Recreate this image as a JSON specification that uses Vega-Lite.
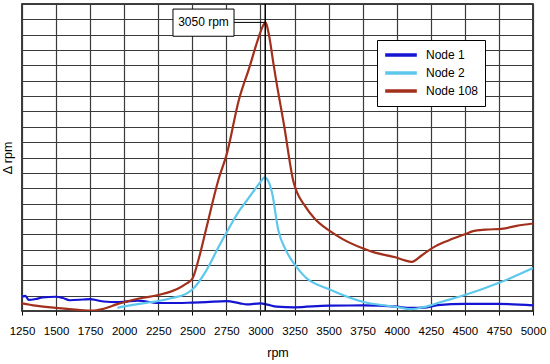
{
  "$schema": "https://vega.github.io/schema/vega-lite/v6.json",
  "width": 511,
  "height": 307,
  "autosize": {"type": "none"},
  "padding": {"left": 22, "top": 4, "right": 17, "bottom": 53},
  "background": "white",
  "config": {
    "font": "Liberation Sans",
    "view": {"stroke": "black", "strokeWidth": 1.5},
    "axis": {"labelFont": "Liberation Sans", "titleFont": "Liberation Sans", "labelColor": "black", "titleColor": "black", "gridColor": "#3a3a3a", "gridWidth": 1.2, "gridOpacity": 1, "domain": false}
  },
  "datasets": {
    "curves": [
      {"series": "Node 1", "rpm": 1250, "value": 0.93},
      {"series": "Node 1", "rpm": 1275, "value": 0.98},
      {"series": "Node 1", "rpm": 1300, "value": 0.72},
      {"series": "Node 1", "rpm": 1350, "value": 0.78},
      {"series": "Node 1", "rpm": 1400, "value": 0.88},
      {"series": "Node 1", "rpm": 1500, "value": 0.93},
      {"series": "Node 1", "rpm": 1550, "value": 0.85},
      {"series": "Node 1", "rpm": 1600, "value": 0.7},
      {"series": "Node 1", "rpm": 1700, "value": 0.75},
      {"series": "Node 1", "rpm": 1750, "value": 0.78},
      {"series": "Node 1", "rpm": 1800, "value": 0.7},
      {"series": "Node 1", "rpm": 1850, "value": 0.62},
      {"series": "Node 1", "rpm": 1950, "value": 0.58},
      {"series": "Node 1", "rpm": 2000, "value": 0.6},
      {"series": "Node 1", "rpm": 2100, "value": 0.68},
      {"series": "Node 1", "rpm": 2200, "value": 0.57},
      {"series": "Node 1", "rpm": 2250, "value": 0.52},
      {"series": "Node 1", "rpm": 2400, "value": 0.52},
      {"series": "Node 1", "rpm": 2500, "value": 0.55},
      {"series": "Node 1", "rpm": 2600, "value": 0.58},
      {"series": "Node 1", "rpm": 2750, "value": 0.64},
      {"series": "Node 1", "rpm": 2850, "value": 0.5},
      {"series": "Node 1", "rpm": 2900, "value": 0.43},
      {"series": "Node 1", "rpm": 3000, "value": 0.5},
      {"series": "Node 1", "rpm": 3050, "value": 0.42},
      {"series": "Node 1", "rpm": 3120, "value": 0.28},
      {"series": "Node 1", "rpm": 3250, "value": 0.24},
      {"series": "Node 1", "rpm": 3500, "value": 0.35},
      {"series": "Node 1", "rpm": 3750, "value": 0.36},
      {"series": "Node 1", "rpm": 4000, "value": 0.28},
      {"series": "Node 1", "rpm": 4100, "value": 0.2},
      {"series": "Node 1", "rpm": 4200, "value": 0.22},
      {"series": "Node 1", "rpm": 4300, "value": 0.38},
      {"series": "Node 1", "rpm": 4500, "value": 0.46},
      {"series": "Node 1", "rpm": 4750, "value": 0.46},
      {"series": "Node 1", "rpm": 5000, "value": 0.37},
      {"series": "Node 2", "rpm": 1950, "value": 0.2},
      {"series": "Node 2", "rpm": 2000, "value": 0.3},
      {"series": "Node 2", "rpm": 2100, "value": 0.45},
      {"series": "Node 2", "rpm": 2250, "value": 0.65},
      {"series": "Node 2", "rpm": 2350, "value": 0.85},
      {"series": "Node 2", "rpm": 2450, "value": 1.1},
      {"series": "Node 2", "rpm": 2500, "value": 1.4},
      {"series": "Node 2", "rpm": 2600, "value": 2.6},
      {"series": "Node 2", "rpm": 2700, "value": 4.3},
      {"series": "Node 2", "rpm": 2750, "value": 5.1},
      {"series": "Node 2", "rpm": 2850, "value": 6.6},
      {"series": "Node 2", "rpm": 2900, "value": 7.2},
      {"series": "Node 2", "rpm": 3000, "value": 8.4},
      {"series": "Node 2", "rpm": 3030, "value": 8.7},
      {"series": "Node 2", "rpm": 3055, "value": 8.5},
      {"series": "Node 2", "rpm": 3085, "value": 7.7},
      {"series": "Node 2", "rpm": 3130, "value": 5.3},
      {"series": "Node 2", "rpm": 3190, "value": 3.9},
      {"series": "Node 2", "rpm": 3253, "value": 3.0},
      {"series": "Node 2", "rpm": 3330, "value": 2.2},
      {"series": "Node 2", "rpm": 3500, "value": 1.43},
      {"series": "Node 2", "rpm": 3750, "value": 0.6},
      {"series": "Node 2", "rpm": 4000, "value": 0.26},
      {"series": "Node 2", "rpm": 4100, "value": 0.12},
      {"series": "Node 2", "rpm": 4200, "value": 0.25},
      {"series": "Node 2", "rpm": 4330, "value": 0.6},
      {"series": "Node 2", "rpm": 4500, "value": 1.04},
      {"series": "Node 2", "rpm": 4770, "value": 1.9},
      {"series": "Node 2", "rpm": 5000, "value": 2.8},
      {"series": "Node 108", "rpm": 1250, "value": 0.5},
      {"series": "Node 108", "rpm": 1350, "value": 0.35},
      {"series": "Node 108", "rpm": 1500, "value": 0.2},
      {"series": "Node 108", "rpm": 1600, "value": 0.12},
      {"series": "Node 108", "rpm": 1750, "value": 0.02},
      {"series": "Node 108", "rpm": 1850, "value": 0.15},
      {"series": "Node 108", "rpm": 1950, "value": 0.45},
      {"series": "Node 108", "rpm": 2000, "value": 0.57},
      {"series": "Node 108", "rpm": 2100, "value": 0.8},
      {"series": "Node 108", "rpm": 2250, "value": 1.04},
      {"series": "Node 108", "rpm": 2400, "value": 1.48},
      {"series": "Node 108", "rpm": 2450, "value": 1.75},
      {"series": "Node 108", "rpm": 2500, "value": 2.1},
      {"series": "Node 108", "rpm": 2550, "value": 3.5},
      {"series": "Node 108", "rpm": 2600, "value": 5.3},
      {"series": "Node 108", "rpm": 2690, "value": 8.5},
      {"series": "Node 108", "rpm": 2755, "value": 10.3},
      {"series": "Node 108", "rpm": 2840, "value": 13.7},
      {"series": "Node 108", "rpm": 2920, "value": 15.9},
      {"series": "Node 108", "rpm": 2980, "value": 17.65},
      {"series": "Node 108", "rpm": 3020, "value": 18.6},
      {"series": "Node 108", "rpm": 3038, "value": 18.8},
      {"series": "Node 108", "rpm": 3055, "value": 18.3},
      {"series": "Node 108", "rpm": 3070, "value": 17.6},
      {"series": "Node 108", "rpm": 3092, "value": 16.3},
      {"series": "Node 108", "rpm": 3110, "value": 15.3},
      {"series": "Node 108", "rpm": 3175, "value": 12.0},
      {"series": "Node 108", "rpm": 3240, "value": 8.5},
      {"series": "Node 108", "rpm": 3330, "value": 6.8},
      {"series": "Node 108", "rpm": 3400, "value": 6.0},
      {"series": "Node 108", "rpm": 3495, "value": 5.3},
      {"series": "Node 108", "rpm": 3600, "value": 4.7},
      {"series": "Node 108", "rpm": 3745, "value": 4.1},
      {"series": "Node 108", "rpm": 3840, "value": 3.8},
      {"series": "Node 108", "rpm": 3990, "value": 3.5},
      {"series": "Node 108", "rpm": 4060, "value": 3.3},
      {"series": "Node 108", "rpm": 4110, "value": 3.2},
      {"series": "Node 108", "rpm": 4180, "value": 3.6},
      {"series": "Node 108", "rpm": 4260, "value": 4.1},
      {"series": "Node 108", "rpm": 4380, "value": 4.6},
      {"series": "Node 108", "rpm": 4500, "value": 5.0},
      {"series": "Node 108", "rpm": 4560, "value": 5.2},
      {"series": "Node 108", "rpm": 4650, "value": 5.3},
      {"series": "Node 108", "rpm": 4770, "value": 5.35},
      {"series": "Node 108", "rpm": 4880, "value": 5.55},
      {"series": "Node 108", "rpm": 5000, "value": 5.7}
    ],
    "marker": [{"rpm": 3035, "value": 0, "value2": 20}],
    "leader": [{"rpm": 2806, "rpm2": 3038, "value": 18.8}],
    "box": [{"rpm": 2358, "rpm2": 2806, "value": 17.9, "value2": 19.67}],
    "label": [{"rpm": 2582, "value": 18.8, "label": "3050 rpm"}]
  },
  "encoding": {
    "x": {"field": "rpm", "type": "quantitative", "title": "rpm",
      "scale": {"domain": [1250, 5000], "nice": false, "zero": false},
      "axis": {
        "values": [1250, 1500, 1750, 2000, 2250, 2500, 2750, 3000, 3250, 3500, 3750, 4000, 4250, 4500, 4750, 5000],
        "format": "d", "grid": true, "ticks": true, "tickSize": 4, "tickColor": "black",
        "labelFontSize": 11.5, "labelPadding": 10, "labelFlush": false, "labelOverlap": false,
        "titleFontSize": 12.5, "titleFontWeight": "normal", "titlePadding": 10
      }},
    "y": {"field": "value", "type": "quantitative", "title": "Δ rpm",
      "scale": {"domain": [0, 20], "nice": false},
      "axis": {
        "values": [0, 1, 2, 3, 4, 5, 6, 7, 8, 9, 10, 11, 12, 13, 14, 15, 16, 17, 18, 19, 20],
        "grid": true, "labels": false, "ticks": false,
        "titleFontSize": 12.5, "titleFontWeight": "normal", "titlePadding": 8
      }}
  },
  "layer": [
    {
      "data": {"name": "curves"},
      "mark": {"type": "line", "interpolate": "monotone", "strokeWidth": 2.2, "clip": true},
      "encoding": {
        "color": {
          "field": "series", "type": "nominal",
          "scale": {"domain": ["Node 1", "Node 2", "Node 108"], "range": ["#1414d2", "#5ec8ec", "#a3301c"]},
          "legend": {
            "title": null, "orient": "none", "legendX": 355, "legendY": 36,
            "fillColor": "white", "strokeColor": "black", "padding": 6,
            "symbolType": "stroke", "symbolSize": 1000, "symbolStrokeWidth": 3.5,
            "labelFontSize": 12, "labelColor": "black", "labelOffset": 7, "rowPadding": 0, "clipHeight": 18
          }
        }
      }
    },
    {
      "data": {"name": "marker"},
      "mark": {"type": "rule", "color": "black", "strokeWidth": 1.5},
      "encoding": {"y2": {"field": "value2"}}
    },
    {
      "data": {"name": "leader"},
      "mark": {"type": "rule", "color": "black", "strokeWidth": 1},
      "encoding": {"x2": {"field": "rpm2"}}
    },
    {
      "data": {"name": "box"},
      "mark": {"type": "rect", "fill": "white", "stroke": "black", "strokeWidth": 1},
      "encoding": {"x2": {"field": "rpm2"}, "y2": {"field": "value2"}}
    },
    {
      "data": {"name": "label"},
      "mark": {"type": "text", "fontSize": 12, "color": "black", "align": "center", "baseline": "middle"},
      "encoding": {"text": {"field": "label"}}
    }
  ]
}
